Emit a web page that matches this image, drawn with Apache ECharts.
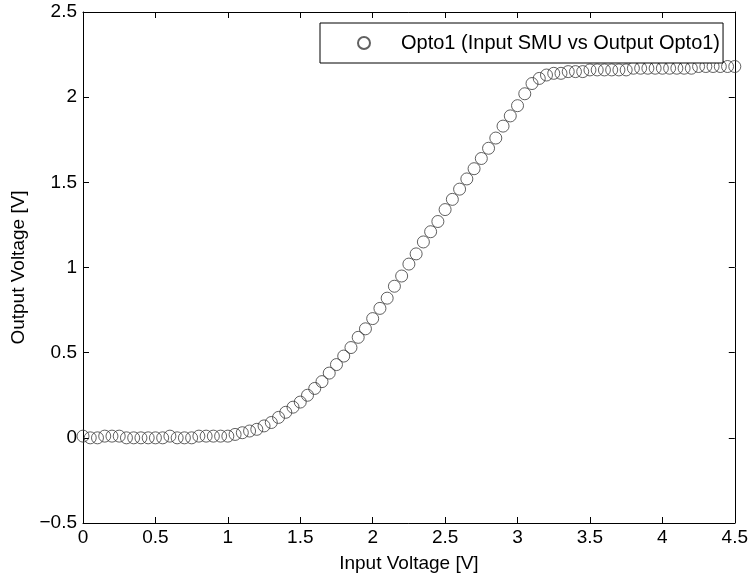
<!DOCTYPE html>
<html><head><meta charset="utf-8">
<script src="https://cdn.jsdelivr.net/npm/echarts@6/dist/echarts.min.js"></script>
<style>html,body{margin:0;padding:0;background:#fff}#c{width:751px;height:583px}</style>
</head><body><div id="c"></div>
<script>
const inputV = [0,0.05,0.1,0.15,0.2,0.25,0.3,0.35,0.4,0.45,0.5,0.55,0.6,0.65,0.7,0.75,0.8,0.85,0.9,0.95,1.0,
1.05,1.1,1.15,1.2,1.25,1.3,1.35,1.4,1.45,1.5,1.55,1.6,1.65,1.7,1.75,1.8,1.85,1.9,1.95,2.0,
2.05,2.1,2.15,2.2,2.25,2.3,2.35,2.4,2.45,2.5,2.55,2.6,2.65,2.7,2.75,2.8,2.85,2.9,2.95,3.0,
3.05,3.1,3.15,3.2,3.25,3.3,3.35,3.4,3.45,3.5,3.55,3.6,3.65,3.7,3.75,3.8,3.85,3.9,3.95,4.0,
4.05,4.1,4.15,4.2,4.25,4.3,4.35,4.4,4.45,4.5];
const outputV = [0.01,0.0,0.0,0.01,0.01,0.01,0.0,0.0,0.0,0.0,0.0,0.0,0.01,0.0,0.0,0.0,0.01,0.01,0.01,0.01,0.01,
0.02,0.03,0.04,0.05,0.07,0.09,0.12,0.15,0.18,0.21,0.25,0.29,0.33,0.38,0.43,0.48,0.53,0.59,0.64,0.70,
0.76,0.82,0.89,0.95,1.02,1.08,1.15,1.21,1.27,1.34,1.40,1.46,1.52,1.58,1.64,1.70,1.76,1.83,1.89,1.95,
2.02,2.08,2.11,2.13,2.14,2.14,2.15,2.15,2.15,2.16,2.16,2.16,2.16,2.16,2.16,2.17,2.17,2.17,2.17,2.17,
2.17,2.17,2.17,2.17,2.18,2.18,2.18,2.18,2.18,2.18];
const seriesName = 'Opto1 (Input SMU vs Output Opto1)';
const xTitle = 'Input Voltage [V]';
const yTitle = 'Output Voltage [V]';

const chart = echarts.init(document.getElementById('c'), null, {renderer:'canvas'});
const font = 'Liberation Sans, Arial, sans-serif';
const axisCommon = {
  axisLine:{show:true, onZero:false, lineStyle:{color:'#000', width:1}},
  axisTick:{show:true, inside:true, length:6, lineStyle:{color:'#000'}},
  splitLine:{show:false}
};
chart.setOption({
  animation:false,
  backgroundColor:'#fff',
  grid:{left:83, right:13, top:12, bottom:60, containLabel:false},
  legend:{
    left:320, top:23, orient:'horizontal',
    borderColor:'#000', borderWidth:1, backgroundColor:'#fff',
    padding:[10, 3, 10, 37],
    itemWidth:12, itemHeight:12,
    textStyle:{fontFamily:font, fontSize:20, color:'#000', padding:[0,0,0,26]},
    data:[{name:seriesName}]
  },
  xAxis:[
    Object.assign({type:'value', min:0, max:4.5, interval:0.5, position:'bottom',
      name:xTitle, nameLocation:'middle', nameGap:31,
      nameTextStyle:{fontFamily:font, fontSize:19, color:'#000'},
      axisLabel:{fontFamily:font, fontSize:19, color:'#000', margin:5}}, axisCommon),
    Object.assign({type:'value', min:0, max:4.5, interval:0.5, position:'top',
      axisLabel:{show:false}}, axisCommon)
  ],
  yAxis:[
    Object.assign({type:'value', min:-0.5, max:2.5, interval:0.5, position:'left',
      name:yTitle, nameLocation:'middle', nameGap:51, nameRotate:90,
      nameTextStyle:{fontFamily:font, fontSize:19, color:'#000'},
      axisLabel:{fontFamily:font, fontSize:19, color:'#000', margin:6,
        formatter:v=>String(v).replace('-','\u2212')}}, axisCommon),
    Object.assign({type:'value', min:-0.5, max:2.5, interval:0.5, position:'right',
      axisLabel:{show:false}}, axisCommon)
  ],
  series:[{
    name:seriesName, type:'scatter', xAxisIndex:0, yAxisIndex:0,
    symbol:'circle', symbolSize:12,
    itemStyle:{color:'rgba(255,255,255,0)', borderColor:'#3a3a3a', borderWidth:1},
    data: inputV.map((x,i)=>[x, outputV[i]])
  }]
});
</script></body></html>
